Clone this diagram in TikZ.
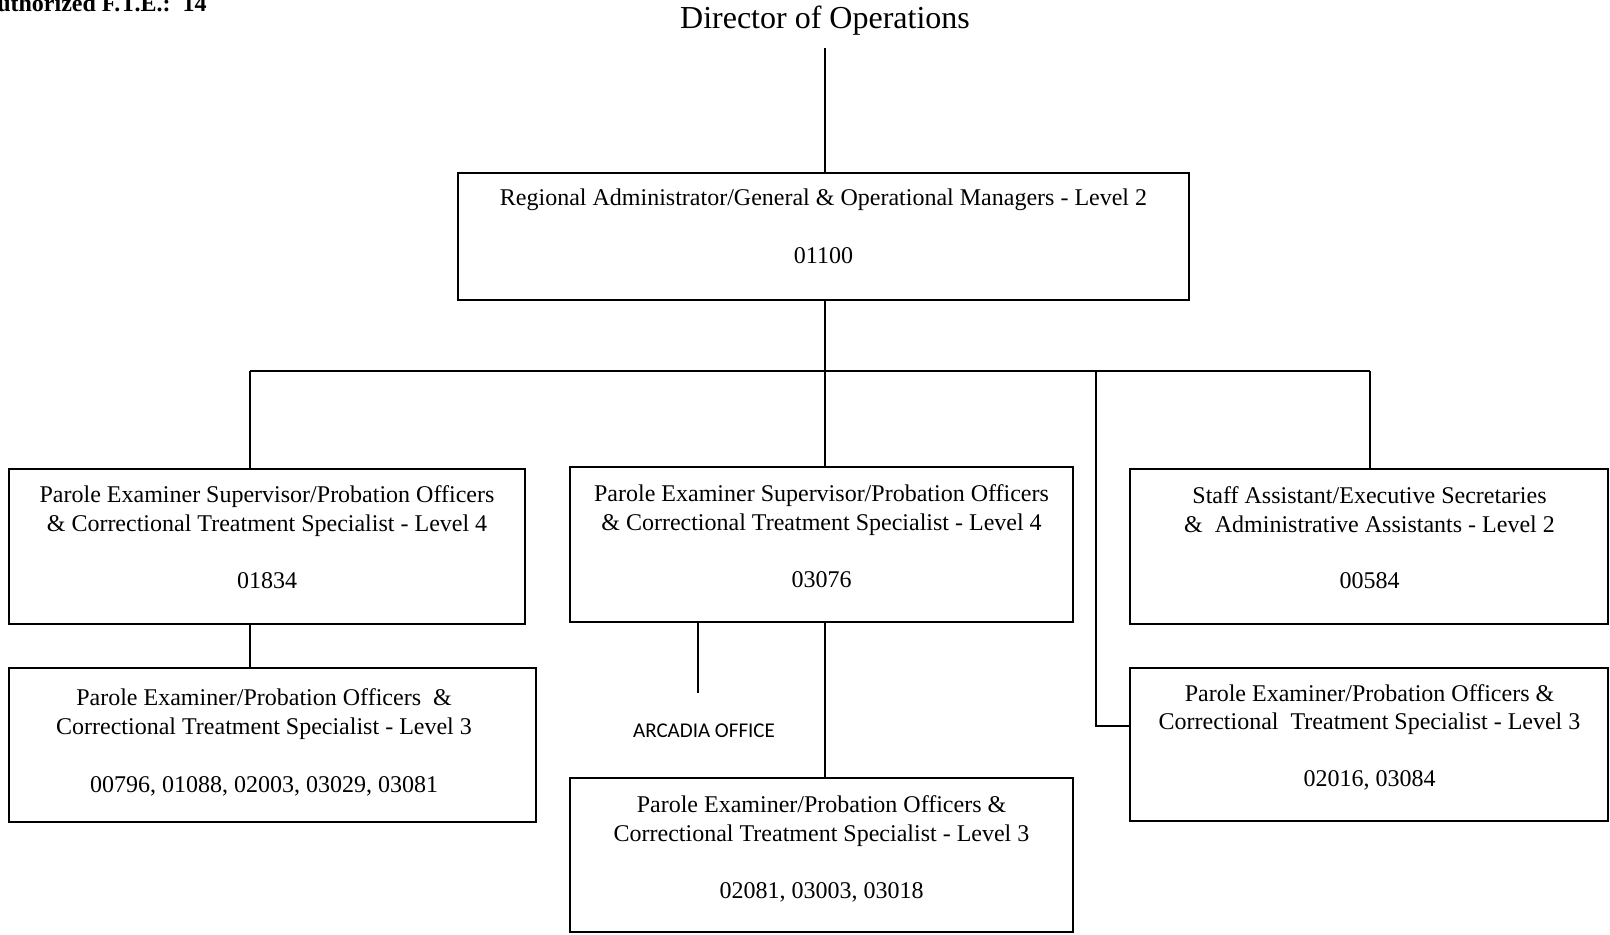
\documentclass[tikz,border=0pt]{standalone}
\usepackage{fontspec}
\setmainfont{Liberation Serif}
\newfontfamily\arcfont{Carlito}
\usetikzlibrary{fit,calc}
\begin{document}
\begin{tikzpicture}[x=0.5pt,y=-0.5pt,
  box/.style={draw, line width=1.4pt, inner sep=0pt},
  conn/.style={line width=1.05pt},
  txt/.style={anchor=base, inner sep=0pt, font=\fontsize{12}{14}\selectfont},
  ]
\useasboundingbox (0,0) rectangle (1610,934);
\clip (0,0) rectangle (1610,934);
% header texts
\node[anchor=base east, inner sep=0pt, font=\bfseries\fontsize{12}{14}\selectfont] (fte) at (207,11) {Authorized F.T.E.:\ \ 14};
\node[anchor=base, inner sep=0pt, font=\fontsize{16}{19}\selectfont] (dir) at (825,28) {Director of Operations};
% boxes
\node[box, fit={(458,173) (1189,300)}] (reg) {};
\node[box, fit={(9,469) (525,624)}] (L1) {};
\node[box, fit={(570,467) (1073,622)}] (M1) {};
\node[box, fit={(1130,469) (1608,624)}] (R1) {};
\node[box, fit={(9,668) (536,822)}] (L2) {};
\node[box, fit={(570,778) (1073,932)}] (M2) {};
\node[box, fit={(1130,668) (1608,821)}] (R2) {};
% texts
\node[txt] (regt1) at (823.5,205) {Regional Administrator/General \& Operational Managers - Level 2};
\node[txt] (regt2) at (823.5,263) {01100};
\node[txt] (L1t1) at (267,502) {Parole Examiner Supervisor/Probation Officers};
\node[txt] (L1t2) at (267,531) {\& Correctional Treatment Specialist - Level 4};
\node[txt] (L1t3) at (267,588) {01834};
\node[txt] (M1t1) at (821.5,501) {Parole Examiner Supervisor/Probation Officers};
\node[txt] (M1t2) at (821.5,530) {\& Correctional Treatment Specialist - Level 4};
\node[txt] (M1t3) at (821.5,587) {03076};
\node[txt] (R1t1) at (1369.5,503) {Staff Assistant/Executive Secretaries};
\node[txt] (R1t2) at (1369.5,532) {\&\ \ Administrative Assistants - Level 2};
\node[txt] (R1t3) at (1369.5,588) {00584};
\node[txt] (L2t1) at (264,705) {Parole Examiner/Probation Officers\ \ \&};
\node[txt] (L2t2) at (264,734) {Correctional Treatment Specialist - Level 3};
\node[txt] (L2t3) at (264,792) {00796, 01088, 02003, 03029, 03081};
\node[txt] (M2t1) at (821.5,812) {Parole Examiner/Probation Officers \&};
\node[txt] (M2t2) at (821.5,841) {Correctional Treatment Specialist - Level 3};
\node[txt] (M2t3) at (821.5,898) {02081, 03003, 03018};
\node[txt] (R2t1) at (1369.5,701) {Parole Examiner/Probation Officers \&};
\node[txt] (R2t2) at (1369.5,729) {Correctional\ \ Treatment Specialist - Level 3};
\node[txt] (R2t3) at (1369.5,786) {02016, 03084};
\node[anchor=base, inner sep=0pt, font=\arcfont\fontsize{10.5}{12}\selectfont] (arct) at (704,737) {ARCADIA OFFICE};
% coordinates
\coordinate (dtop) at (825,48);
\coordinate (busL) at (250,371);
\coordinate (busM) at (825,371);
\coordinate (busS) at (1096,371);
\coordinate (busR) at (1370,371);
\coordinate (r2in) at (1130,726);
\coordinate (arc) at (698,693);
% connectors
\draw[conn] (dtop) -- (dtop |- reg.north);
\draw[conn] (reg.south -| busM) -- (busM);
\draw[conn] (busL) -- (busR);
\draw[conn] (busL) -- (busL |- L1.north);
\draw[conn] (busM) -- (busM |- M1.north);
\draw[conn] (busR) -- (busR |- R1.north);
\draw[conn] (busS) |- (r2in);
\draw[conn] (L1.south -| busL) -- (L2.north -| busL);
\draw[conn] (M1.south -| busM) -- (M2.north -| busM);
\draw[conn] (M1.south -| arc) -- (arc);
\end{tikzpicture}
\end{document}
